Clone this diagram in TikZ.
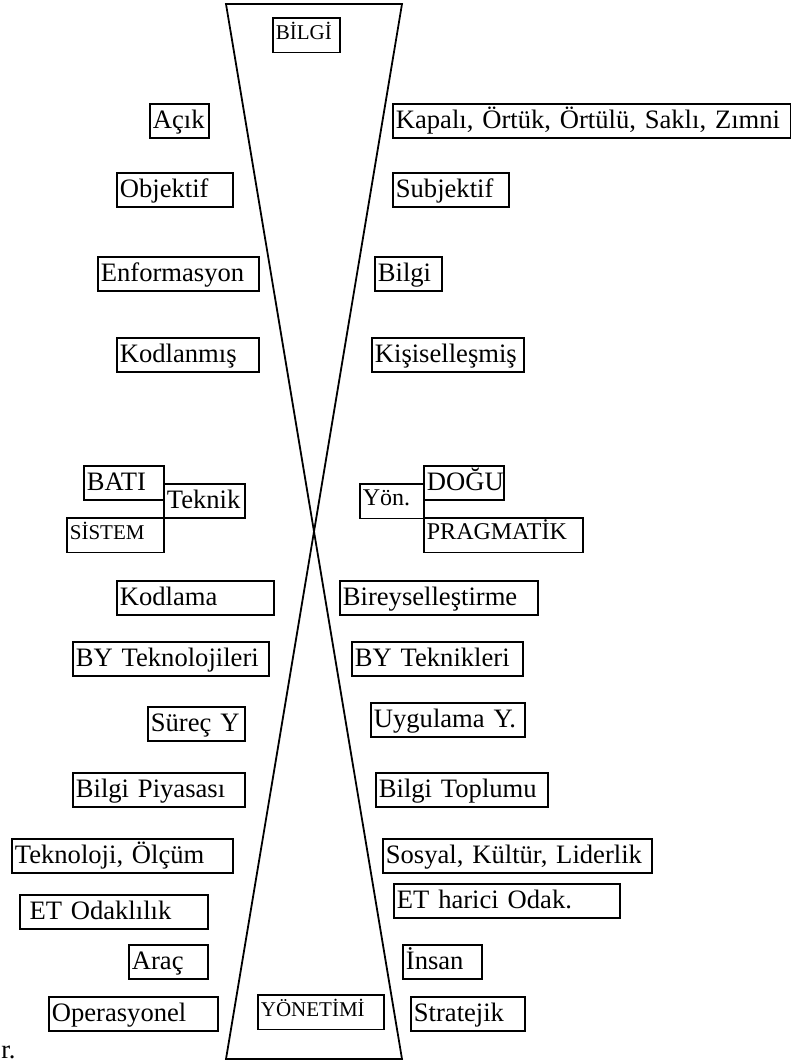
\documentclass[tikz,border=0pt]{standalone}
\usepackage{fontspec}
\setmainfont{Liberation Serif}
\usepackage{tikz}
\usetikzlibrary{positioning}
\definecolor{chartLine}{HTML}{000000}

\begin{document}
\begin{tikzpicture}[
  x=0.5pt, y=-0.5pt,
  font=\fontsize{13.3}{15}\selectfont,
  kutu/.style={
    draw=chartLine,
    line width=0.9pt,
    anchor=north west,
    align=left,
    inner xsep=1.5pt,
    inner ysep=0pt,
    text width={#1*0.5pt-3pt},
    text height=12.5pt,
    text depth=4.5pt
  },
  kucuk/.style={
    kutu=#1,
    font=\fontsize{10.5}{12}\selectfont,
    text height=11pt,
    text depth=6.25pt
  },
  orta/.style={
    kucuk=#1,
    font=\fontsize{12}{14}\selectfont
  },
  kum/.style={draw=chartLine, line width=0.9pt, line join=miter}
]
\useasboundingbox (0,0) rectangle (791,1062);

% kum saati
\coordinate (ustsol) at (226,4);
\coordinate (ustsag) at (402,4);
\coordinate (altsol) at (226,1059);
\coordinate (altsag) at (402,1059);
\draw[kum] (ustsol) -- (ustsag) -- (altsol) -- (altsag) -- cycle;

\node[kucuk=67] (bilgibas) at (272,17) {BİLGİ};
\node[kucuk=126] (yonetimi) at (257,994) {YÖNETİMİ};

% sol taraf
\node[kutu=59] (acik) at (149,103) {Açık};
\node[kutu=116] (objektif) at (116,172) {Objektif};
\node[kutu=161] (enformasyon) at (97,256) {Enformasyon};
\node[kutu=142] (kodlanmis) at (116,337) {Kodlanmış};
\node[kutu=80] (bati) at (83,465) {BATI};
\node[kutu=81] (teknik) at (163,483) {Teknik};
\node[kucuk=97] (sistem) at (66,517) {SİSTEM};
\node[kutu=157] (kodlama) at (116,580) {Kodlama};
\node[kutu=196] (byteknoloji) at (72,641) {BY Teknolojileri};
\node[kutu=97] (surec) at (147,706) {Süreç Y};
\node[kutu=172] (piyasa) at (72,772) {Bilgi Piyasası};
\node[kutu=221] (teknoloji) at (11,838) {Teknoloji, Ölçüm};
\node[kutu=188] (etodak) at (19,894) {\hspace*{3.3pt}ET Odaklılık};
\node[kutu=79] (arac) at (128,944) {Araç};
\node[kutu=169] (operasyonel) at (48,996) {Operasyonel};

% sag taraf
\node[kutu=398] (kapali) at (392,103) {Kapalı, Örtük, Örtülü, Saklı, Zımni};
\node[kutu=116] (subjektif) at (392,172) {Subjektif};
\node[kutu=67] (bilgi) at (374,256) {Bilgi};
\node[kutu=152] (kisisel) at (371,337) {Kişiselleşmiş};
\node[orta=64] (yon) at (359,483) {Yön.};
\node[kutu=80] (dogu) at (423,465) {DOĞU};
\node[orta=159] (pragmatik) at (423,517) {PRAGMATİK};
\node[kutu=198] (bireysel) at (339,580) {Bireyselleştirme};
\node[kutu=171] (byteknik) at (351,641) {BY Teknikleri};
\node[kutu=154] (uygulama) at (370,702) {Uygulama Y.};
\node[kutu=172] (toplum) at (375,772) {Bilgi Toplumu};
\node[kutu=269] (sosyal) at (382,838) {Sosyal, Kültür, Liderlik};
\node[kutu=226] (etharici) at (393,883) {ET harici Odak.};
\node[kutu=79] (insan) at (402,944) {İnsan};
\node[kutu=114] (stratejik) at (410,996) {Stratejik};

\node[anchor=base west, inner sep=0pt] (kesik) at (1,1058) {r.};
\end{tikzpicture}
\end{document}
